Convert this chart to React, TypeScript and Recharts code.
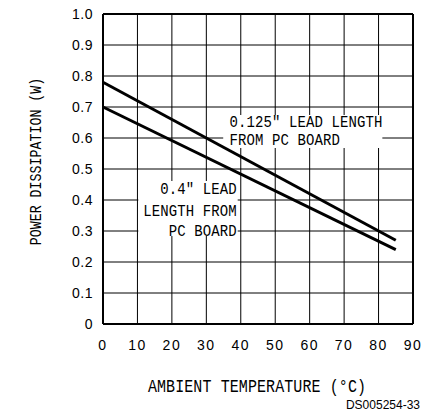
import React from "react";
import {
  LineChart,
  Line,
  XAxis,
  YAxis,
  CartesianGrid,
  ReferenceArea,
  ReferenceLine,
} from "recharts";

const temps = [0, 85];
const lead0125 = [0.78, 0.27];
const lead04 = [0.7, 0.24];
const xTicks = [0, 10, 20, 30, 40, 50, 60, 70, 80, 90];
const yTicks = [0, 0.1, 0.2, 0.3, 0.4, 0.5, 0.6, 0.7, 0.8, 0.9, 1.0];
const label1Lines = ['0.125" LEAD LENGTH', "FROM PC BOARD"];
const label2Lines = ['0.4" LEAD', "LENGTH FROM", "PC BOARD"];
const xTitle = "AMBIENT TEMPERATURE (\u00B0C)";
const yTitle = "POWER DISSIPATION (W)";
const docId = "DS005254-33";

const data = temps.map((t, i) => ({ t, a: lead0125[i], b: lead04[i] }));

const MONO = "'Liberation Mono', 'DejaVu Sans Mono', monospace";
const ARIAL = "'Liberation Sans', Arial, sans-serif";

const LabelText = ({ x, y, s, anchor, size, ls }: any) => (
  <text
    transform={`translate(${x} ${y}) scale(1 1.2)`}
    x={0}
    y={0}
    dy="0.36em"
    textAnchor={anchor}
    fontFamily={MONO}
    fontSize={size}
    letterSpacing={ls}
    fill="#000"
  >
    {s}
  </text>
);

const Label1 = (props: any) => {
  const vb = props.viewBox || {};
  return (
    <g>
      {label1Lines.map((s, i) => (
        <LabelText key={i} x={vb.x + 6.3} y={vb.y + 6.3 + i * 17.7} s={s} anchor="start" size={14} ls={0.1} />
      ))}
    </g>
  );
};

const Label2 = (props: any) => {
  const vb = props.viewBox || {};
  const offs = [7.3, 29, 49];
  return (
    <g>
      {label2Lines.map((s, i) => (
        <LabelText key={i} x={vb.x + vb.width - 1} y={vb.y + offs[i]} s={s} anchor="end" size={14} ls={0.1} />
      ))}
    </g>
  );
};

const XTitle = () => (
  <g>
    <text
      transform="translate(257 386) scale(1 1.2)"
      x={0}
      y={0}
      dy="0.36em"
      textAnchor="middle"
      fontFamily={MONO}
      fontSize={15}
      letterSpacing={0.1}
      fill="#000"
    >
      {xTitle}
    </text>
    <text x={420} y={409} textAnchor="end" fontFamily={ARIAL} fontSize={12} fill="#000">
      {docId}
    </text>
  </g>
);

const YTitle = () => (
  <text
    transform="translate(35 161.5) rotate(-90) scale(1 1.2)"
    x={0}
    y={0}
    dy="0.36em"
    textAnchor="middle"
    fontFamily={MONO}
    fontSize={13.3}
    letterSpacing={0}
    fill="#000"
  >
    {yTitle}
  </text>
);

export default function App() {
  return (
    <div style={{ position: "absolute", left: 0, top: 0, background: "#fff" }}>
      <LineChart
        width={427}
        height={415}
        data={data}
        margin={{ top: 14, right: 14, left: 0, bottom: 0 }}
      >
        <CartesianGrid stroke="#000" strokeWidth={1} />
        <XAxis
          dataKey="t"
          type="number"
          domain={[0, 90]}
          ticks={xTicks}
          interval={0}
          height={91}
          tickLine={false}
          tickSize={0}
          tickMargin={16}
          axisLine={{ stroke: "#000", strokeWidth: 2 }}
          tick={{ fill: "#000", fontSize: 14, fontFamily: ARIAL, letterSpacing: 1.5 }}
          label={<XTitle />}
        />
        <YAxis
          type="number"
          domain={[0, 1]}
          ticks={yTicks}
          interval={0}
          width={103}
          tickLine={false}
          tickSize={0}
          tickMargin={10}
          axisLine={{ stroke: "#000", strokeWidth: 2 }}
          tick={{ fill: "#000", fontSize: 14, fontFamily: ARIAL, letterSpacing: 0.5 }}
          tickFormatter={(v: number) => (v === 0 ? "0" : v.toFixed(1))}
          label={<YTitle />}
        />
        <ReferenceLine y={1} stroke="#000" strokeWidth={2} />
        <ReferenceLine x={90} stroke="#000" strokeWidth={2} />
        <ReferenceArea
          x1={34.9}
          x2={81.1}
          y1={0.568}
          y2={0.674}
          fill="#fff"
          fillOpacity={1}
          stroke="none"
          label={<Label1 />}
        />
        <ReferenceArea
          x1={10.25}
          x2={39.1}
          y1={0.284}
          y2={0.461}
          fill="#fff"
          fillOpacity={1}
          stroke="none"
          label={<Label2 />}
        />
        <Line dataKey="a" stroke="#000" strokeWidth={3} dot={false} isAnimationActive={false} />
        <Line dataKey="b" stroke="#000" strokeWidth={3} dot={false} isAnimationActive={false} />
      </LineChart>
    </div>
  );
}
